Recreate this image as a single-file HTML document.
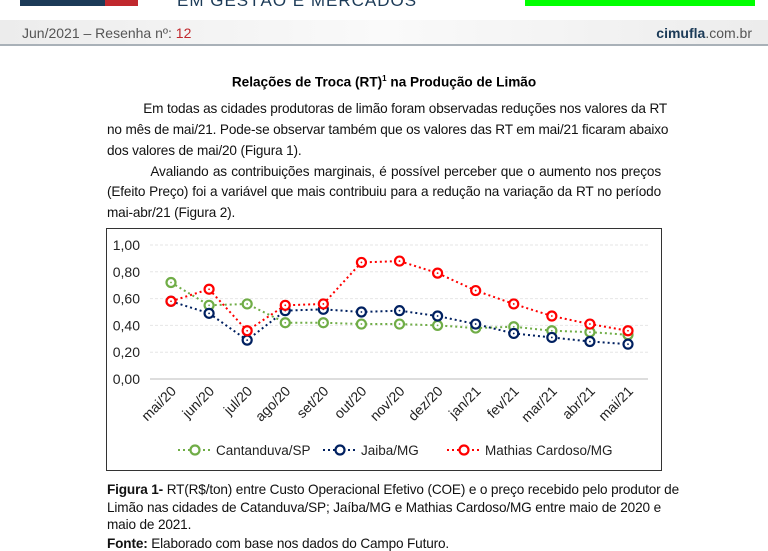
<!DOCTYPE html>
<html><head><meta charset="utf-8">
<style>
body{margin:0;width:768px;height:539px;overflow:hidden;background:#fff;font-family:"Liberation Sans",sans-serif;position:relative}
.abs{position:absolute}
.p{position:absolute;left:107px;width:554px;font-size:13.6px;color:#111;text-align:justify;text-align-last:justify;white-space:nowrap;letter-spacing:-0.15px}
.last{text-align-last:left}
</style></head><body>
<div class="abs" style="left:20px;top:0;width:118px;height:6px;background:#1b3a57"></div>
<div class="abs" style="left:105px;top:0;width:33px;height:6px;background:#c0282d"></div>
<div class="abs" style="left:177px;top:-9px;font-size:17px;color:#1b3a57;letter-spacing:1px">EM GESTÃO E MERCADOS</div>
<div class="abs" style="left:525px;top:0;width:230px;height:6px;background:#00ff00"></div>
<div class="abs" style="left:0;top:20px;width:768px;height:24px;background:linear-gradient(90deg,#ececec,#fafafa 50%,#ececec);border-bottom:2px solid #a9b1b8"></div>
<div class="abs" style="left:22px;top:25px;font-size:14px;color:#555">Jun/2021 – Resenha nº: <span style="color:#c0282d">12</span></div>
<div class="abs" style="right:16px;top:25px;font-size:14px;color:#555"><b style="color:#1b3a57">cimufla</b>.com.br</div>

<div class="abs" style="left:0;width:768px;text-align:center;top:74px;font-size:13.6px;font-weight:bold">Relações de Troca (RT)<sup style="font-size:8px">1</sup> na Produção de Limão</div>
<div class="p" style="top:101px">&nbsp;&nbsp;&nbsp;&nbsp;&nbsp;&nbsp;&nbsp;&nbsp;&nbsp;&nbsp;Em todas as cidades produtoras de limão foram observadas reduções nos valores da RT</div>
<div class="p" style="top:122px">no mês de mai/21. Pode-se observar também que os valores das RT em mai/21 ficaram abaixo</div>
<div class="p last" style="top:143px">dos valores de mai/20 (Figura 1).</div>
<div class="p" style="top:164px">&nbsp;&nbsp;&nbsp;&nbsp;&nbsp;&nbsp;&nbsp;&nbsp;&nbsp;&nbsp;Avaliando as contribuições marginais, é possível perceber que o aumento nos preços</div>
<div class="p" style="top:184px">(Efeito Preço) foi a variável que mais contribuiu para a redução na variação da RT no período</div>
<div class="p last" style="top:205px">mai-abr/21 (Figura 2).</div>

<svg class="abs" style="left:0;top:0" width="768" height="539">
<rect x="106.5" y="228.5" width="555" height="242" fill="#fff" stroke="#333"/>
<g id="grid"></g><g id="series"></g><g id="labels" font-family="Liberation Sans" font-size="14" fill="#222"></g>
<g id="legend" font-family="Liberation Sans" font-size="13.5" fill="#222"></g>
</svg>

<div class="p" style="top:482px"><b>Figura 1-</b> RT(R$/ton) entre Custo Operacional Efetivo (COE) e o preço recebido pelo produtor de</div>
<div class="p" style="top:500px">Limão nas cidades de Catanduva/SP; Jaíba/MG e Mathias Cardoso/MG entre maio de 2020 e</div>
<div class="p last" style="top:517px">maio de 2021.</div>
<div class="p last" style="top:536px"><b>Fonte:</b> Elaborado com base nos dados do Campo Futuro.</div>

<script>
const categories=["mai/20","jun/20","jul/20","ago/20","set/20","out/20","nov/20","dez/20","jan/21","fev/21","mar/21","abr/21","mai/21"];
const cantanduva=[0.72,0.55,0.56,0.42,0.42,0.41,0.41,0.40,0.38,0.39,0.36,0.35,0.33];
const jaiba=[0.58,0.49,0.29,0.51,0.52,0.50,0.51,0.47,0.41,0.34,0.31,0.28,0.26];
const mathias=[0.58,0.67,0.36,0.55,0.56,0.87,0.88,0.79,0.66,0.56,0.47,0.41,0.36];
const yTicks=[0,0.2,0.4,0.6,0.8,1.0];
const seriesNames=["Cantanduva/SP","Jaiba/MG","Mathias Cardoso/MG"];
const NS="http://www.w3.org/2000/svg";
const X=i=>171+i*(628-171)/(categories.length-1);
const Y=v=>379-v*(379-245);
function mk(t,a,p){const e=document.createElementNS(NS,t);for(const k in a)e.setAttribute(k,a[k]);p.appendChild(e);return e;}
const grid=document.getElementById('grid'),lab=document.getElementById('labels'),ser=document.getElementById('series'),leg=document.getElementById('legend');
yTicks.forEach(v=>{
 const l=mk('line',{x1:150,x2:648,y1:Y(v),y2:Y(v),stroke:v===0?'#bbb':'#e6e6e6','stroke-dasharray':v===0?'':'3,2'},grid);
 
 
 const t=mk('text',{x:140,y:Y(v)+5,'text-anchor':'end'},lab);t.textContent=v.toFixed(2).replace('.',',');
 
 
});
categories.forEach((c,i)=>{
 const t=mk('text',{x:X(i)+6,y:392,'text-anchor':'end',transform:`rotate(-45 ${X(i)+6} 392)`},lab);t.textContent=c;
 
 
});
const colors=["#70ad47","#002060","#ff0000"];
[cantanduva,jaiba,mathias].forEach((d,s)=>{
 const p=mk('polyline',{points:d.map((v,i)=>X(i)+','+Y(v)).join(' '),fill:'none',stroke:colors[s],'stroke-width':2,'stroke-dasharray':'2,3'},ser);
 
 
 d.forEach((v,i)=>{
  const c=mk('circle',{cx:X(i),cy:Y(v),r:4.5,fill:'#fff',stroke:colors[s],'stroke-width':2.2},ser);
  
  
  mk('circle',{cx:X(i),cy:Y(v),r:0.9,fill:colors[s]},ser);
 });
});
const lx=[178,323,447];
seriesNames.forEach((n,s)=>{
 const g=mk('g',{},leg);
 
 
 mk('line',{x1:lx[s],x2:lx[s]+34,y1:450,y2:450,stroke:colors[s],'stroke-width':2,'stroke-dasharray':'2,3'},g);
 mk('circle',{cx:lx[s]+17,cy:450,r:4.5,fill:'#fff',stroke:colors[s],'stroke-width':2.2},g);
 const t=mk('text',{x:lx[s]+38,y:455},g);t.textContent=n;
});
</script>
</body></html>
